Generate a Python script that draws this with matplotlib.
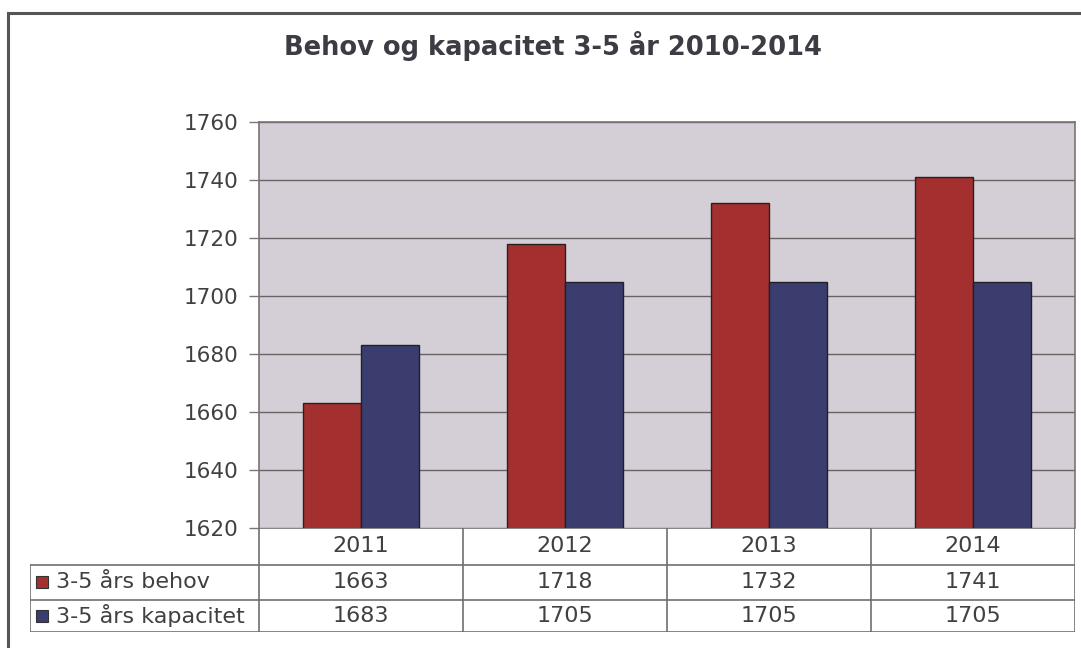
import matplotlib
matplotlib.use("Agg")
import matplotlib.pyplot as plt
import numpy as np
from matplotlib.patches import Rectangle

# data
years = ["2011", "2012", "2013", "2014"]
behov = [1663, 1718, 1732, 1741]
kapasitet = [1683, 1705, 1705, 1705]
series_names = ["3-5 års behov", "3-5 års kapacitet"]
title = "Behov og kapacitet 3-5 år 2010-2014"

red = "#a3302f"
blue = "#3a3d6d"
bg = "#d4cfd7"
txt = "#404040"

W, H = 1081, 648
fig = plt.figure(figsize=(W / 100, H / 100), dpi=100)
fig.patch.set_facecolor("white")

# outer frame (only top and left visible in the original)
fig.add_artist(plt.Line2D([8 / W, 8 / W], [0, 1 - 13 / H], color="#555555", lw=2.2))
fig.add_artist(plt.Line2D([8 / W, 1], [1 - 13 / H, 1 - 13 / H], color="#555555", lw=2.2))

fig.text(553 / W, 1 - 46 / H, title, ha="center", va="center",
         fontsize=18.5, fontweight="bold", color="#3c3c44")

# main bar chart
left, right, top, bottom = 259, 1075, 122, 528
ax = fig.add_axes([left / W, 1 - bottom / H, (right - left) / W, (bottom - top) / H])
ax.set_facecolor(bg)
x = np.arange(len(years))
bw = 0.285
ax.bar(x - bw / 2, behov, bw, color=red, edgecolor="#2a2020", linewidth=1.0, zorder=3)
ax.bar(x + bw / 2, kapasitet, bw, color=blue, edgecolor="#202028", linewidth=1.0, zorder=3)
ax.set_xlim(-0.5, len(years) - 0.5)
ax.set_ylim(1620, 1760)
ax.set_yticks(range(1620, 1761, 20))
ax.yaxis.grid(True, color="#6a6262", linewidth=1.0, zorder=1)
ax.set_xticks([])
ax.tick_params(axis="y", length=7, width=1, color="#777777", labelsize=15.5, labelcolor=txt, pad=8)
for s in ["top", "right", "left"]:
    ax.spines[s].set_color("#7a7373")
    ax.spines[s].set_linewidth(1.2)
ax.spines["bottom"].set_visible(False)

# data table below the chart
tl = 30
cat_w = (right - left) / len(years)
x0 = -0.5 - (left - tl) / cat_w
row_y = [528, 565, 600, 632]
tax = fig.add_axes([tl / W, 1 - row_y[-1] / H, (right - tl) / W, (row_y[-1] - row_y[0]) / H])
tax.set_xlim(x0, len(years) - 0.5)
tax.set_ylim(row_y[-1], row_y[0])
tax.axis("off")
lc = "#6f6f6f"
# horizontal lines
tax.plot([-0.5, len(years) - 0.5], [row_y[0], row_y[0]], color=lc, lw=1.2)
for yy in row_y[1:]:
    tax.plot([x0, len(years) - 0.5], [yy, yy], color=lc, lw=1.2)
# vertical lines
for i in range(len(years) + 1):
    tax.plot([i - 0.5, i - 0.5], [row_y[0], row_y[-1]], color=lc, lw=1.2)
tax.plot([x0, x0], [row_y[1], row_y[-1]], color=lc, lw=1.2)

fs = 16
for i, yr in enumerate(years):
    tax.text(i, (row_y[0] + row_y[1]) / 2, yr, ha="center", va="center", fontsize=fs, color=txt)
for r, (vals, name, col) in enumerate([(behov, series_names[0], red), (kapasitet, series_names[1], blue)]):
    yc = (row_y[r + 1] + row_y[r + 2]) / 2
    for i, v in enumerate(vals):
        tax.text(i, yc, str(v), ha="center", va="center", fontsize=fs, color=txt)
    sq = 12 / cat_w
    tax.add_patch(Rectangle((x0 + 6 / cat_w, yc - 6), sq, 12, facecolor=col,
                            edgecolor="#333333", lw=0.8, clip_on=False))
    tax.text(x0 + 26 / cat_w, yc, name, ha="left", va="center", fontsize=fs, color=txt)

fig.savefig("out.png", dpi=100)
